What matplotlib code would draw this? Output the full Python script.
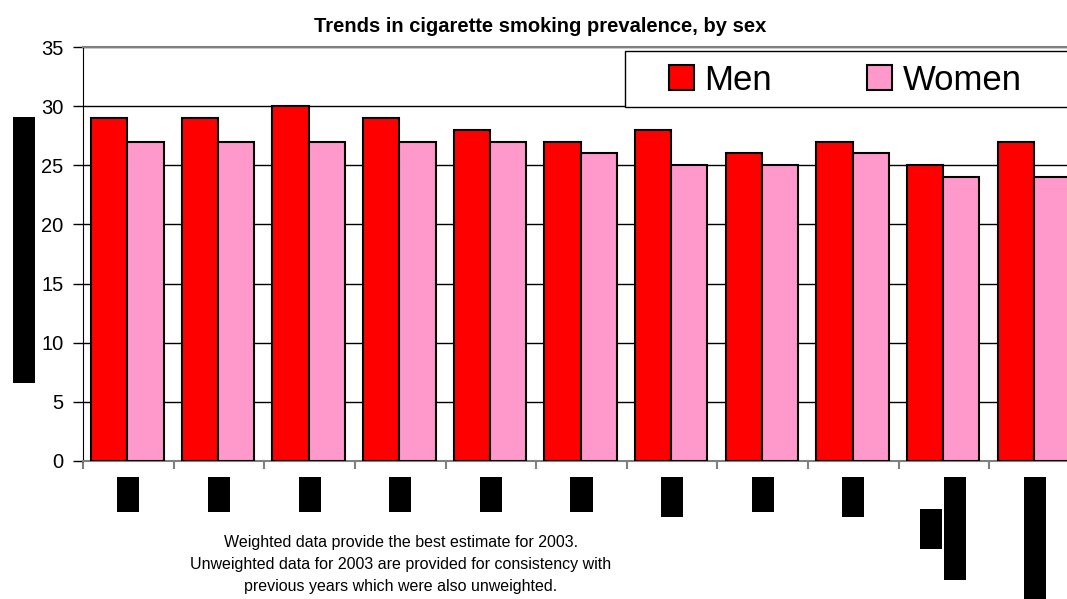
import matplotlib.pyplot as plt
import matplotlib.patches as mpatches
import matplotlib.transforms as mtransforms
import numpy as np

plt.rcParams['font.family'] = ['Liberation Sans', 'DejaVu Sans']

# smoking prevalence (%) per survey year, 11 groups
men = [29, 29, 30, 29, 28, 27, 28, 26, 27, 25, 27]
women = [27, 27, 27, 27, 27, 26, 25, 25, 26, 24, 24]
yticks = [0, 5, 10, 15, 20, 25, 30, 35]
title = 'Trends in cigarette smoking prevalence, by sex'
note_lines = ['Weighted data provide the best estimate for 2003.',
              'Unweighted data for 2003 are provided for consistency with',
              'previous years which were also unweighted.']

x = np.arange(len(men))
W, H = 1067, 599
fig = plt.figure(figsize=(W / 100, H / 100), dpi=100)
ax = fig.add_axes([83 / W, 1 - 461 / H, (1080 - 83) / W, (461 - 47) / H])

ax.bar(x - 0.21, men, width=0.4, color='#ff0000', edgecolor='black',
       linewidth=1.5, zorder=3, label='Men')
ax.bar(x + 0.19, women, width=0.4, color='#ff99cc', edgecolor='black',
       linewidth=1.5, zorder=3, label='Women')

ax.set_xlim(-0.5, len(men) - 0.5)
ax.set_ylim(0, 35)
ax.set_yticks(yticks)
ax.set_yticklabels([str(v) for v in yticks], fontsize=14.5)
ax.tick_params(axis='y', direction='out', length=7, width=1, color='black', pad=7)
ax.set_xticks(np.arange(len(men) + 1) - 0.5)
ax.set_xticklabels([])
ax.tick_params(axis='x', direction='out', length=6, width=1.5, color='#808080')
ax.grid(axis='y', color='black', linewidth=1, zorder=0)
ax.spines['left'].set_color('black')
ax.spines['bottom'].set_color('#808080')
ax.spines['top'].set_color('#808080')
ax.spines['top'].set_linewidth(1.5)
ax.spines['bottom'].set_linewidth(1.5)
ax.spines['right'].set_visible(False)

fig.text(540 / W, 1 - 32 / H, title, ha='center', va='baseline',
         fontsize=14.5, fontweight='bold')

# legend frame runs off the right edge
fig.patches.append(mpatches.Rectangle((625 / W, 1 - 107 / H), 500 / W, 56 / H,
                                      transform=fig.transFigure, facecolor='white',
                                      edgecolor='black', linewidth=1, zorder=5))
leg = fig.legend(loc='center left', bbox_to_anchor=(655 / W, 1 - 80 / H), ncol=2,
                 frameon=False, fontsize=25, handlelength=0.72, handleheight=0.72,
                 handletextpad=0.3, columnspacing=2.75, borderaxespad=0)
leg.set_zorder(6)

# blacked-out labels
trans = mtransforms.blended_transform_factory(ax.transData, fig.transFigure)
bw = 22 / 90.6
boxes = [(0, 477, 512), (1, 477, 512), (2, 477, 512), (3, 477, 512), (4, 477, 512),
         (5, 477, 512), (6, 477, 517), (7, 477, 512), (8, 477, 517),
         (9.12, 477, 580), (8.86, 509, 549), (10, 477, 620)]
for cx, y0, y1 in boxes:
    fig.patches.append(mpatches.Rectangle((cx - bw / 2, 1 - y1 / H), bw, (y1 - y0) / H,
                                          transform=trans, facecolor='black',
                                          edgecolor='none'))
fig.patches.append(mpatches.Rectangle((13 / W, 1 - 383 / H), 22 / W, 266 / H,
                                      transform=fig.transFigure, facecolor='black',
                                      edgecolor='none'))

for i, line in enumerate(note_lines):
    fig.text(401 / W, 1 - (547 + 22 * i) / H, line, ha='center', va='baseline',
             fontsize=11.5)

fig.savefig('out.png', dpi=100)
